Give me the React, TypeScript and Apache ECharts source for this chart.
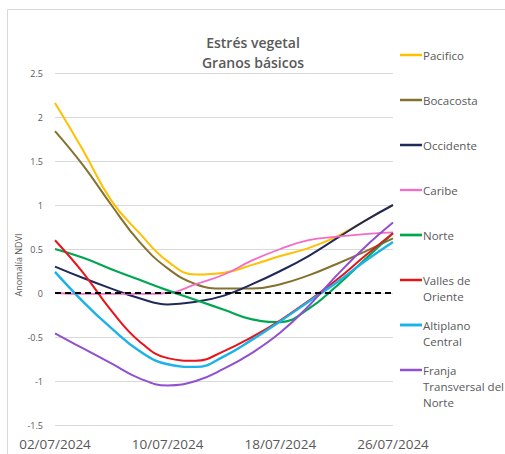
import React, { useEffect, useRef } from "react";
import * as echarts from "echarts";

// Days since 02/07/2024
const days = [0, 2, 4, 6, 8, 10, 12, 14, 16, 18, 20, 22, 24];
const xTickLabels = ["02/07/2024", "10/07/2024", "18/07/2024", "26/07/2024"];

const pacifico = [2.16, 1.62, 1.05, 0.68, 0.36, 0.21, 0.23, 0.32, 0.42, 0.51, 0.64, 0.82, 1.0];
const bocacosta = [1.84, 1.45, 1.0, 0.58, 0.28, 0.1, 0.05, 0.05, 0.1, 0.2, 0.33, 0.47, 0.62];
const occidente = [0.3, 0.17, 0.05, -0.06, -0.13, -0.1, -0.03, 0.1, 0.25, 0.42, 0.62, 0.82, 1.0];
const caribe = [0, -0.01, -0.01, -0.01, 0.0, 0.1, 0.21, 0.37, 0.5, 0.6, 0.64, 0.67, 0.69];
const norte = [0.5, 0.4, 0.27, 0.15, 0.03, -0.08, -0.19, -0.3, -0.33, -0.18, 0.08, 0.38, 0.68];
const vallesOriente = [0.6, 0.23, -0.2, -0.55, -0.74, -0.77, -0.66, -0.5, -0.31, -0.09, 0.15, 0.42, 0.68];
const altiplanoCentral = [0.24, -0.1, -0.4, -0.66, -0.81, -0.84, -0.72, -0.53, -0.32, -0.1, 0.12, 0.36, 0.58];
const franja = [-0.46, -0.63, -0.8, -0.97, -1.05, -1.0, -0.86, -0.68, -0.45, -0.15, 0.2, 0.52, 0.8];
const zeroLine = [0, 0];
const zeroDays = [0, 24];

const regionLabels = [
  "Pacifico",
  "Bocacosta",
  "Occidente",
  "Caribe",
  "Norte",
  "Valles de\nOriente",
  "Altiplano\nCentral",
  "Franja\nTransversal del\nNorte",
];
const regionValues = [pacifico, bocacosta, occidente, caribe, norte, vallesOriente, altiplanoCentral, franja];
const regionColors = ["#FFC000", "#85712F", "#1F2A5A", "#F46BC8", "#00A651", "#E8141B", "#1BB2E8", "#9050CF"];
const regionWidths = [2, 2, 2, 1.8, 2.2, 2, 2.4, 2];

const FONT = "'Open Sans', 'Noto Sans', sans-serif";
const GREY = "#595959";

export default function App() {
  const ref = useRef<HTMLDivElement>(null);

  useEffect(() => {
    if (!ref.current) return;
    const chart = echarts.init(ref.current, null, { renderer: "svg" });

    const series: any[] = regionLabels.map((label, i) => ({
      name: label.replace(/\n/g, " "),
      type: "line",
      smooth: 0.45,
      showSymbol: false,
      symbol: "none",
      lineStyle: { color: regionColors[i], width: regionWidths[i] },
      itemStyle: { color: regionColors[i] },
      data: days.map((d, j) => [d, regionValues[i][j]]),
      z: 3,
    }));
    series.push({
      name: "cero",
      type: "line",
      showSymbol: false,
      symbol: "none",
      lineStyle: { color: "#000000", width: 2, type: [6, 4] },
      data: zeroDays.map((d, j) => [d, zeroLine[j]]),
      z: 4,
    });

    const legendGraphics: any[] = [];
    regionLabels.forEach((label, i) => {
      const y = 55 + i * 45;
      legendGraphics.push({
        type: "line",
        shape: { x1: 400, y1: y, x2: 422, y2: y },
        style: { stroke: regionColors[i], lineWidth: regionWidths[i] + 0.5 },
      });
      legendGraphics.push({
        type: "text",
        x: 423,
        y: y - 8,
        style: {
          text: label,
          font: `11.5px ${FONT}`,
          fill: GREY,
          lineHeight: 16,
          verticalAlign: "top",
          align: "left",
        },
      });
    });

    chart.setOption({
      animation: false,
      backgroundColor: "#ffffff",
      title: {
        text: "Estrés vegetal\nGranos básicos",
        left: 248,
        top: 27,
        textAlign: "center",
        textStyle: {
          fontFamily: FONT,
          fontSize: 14,
          fontWeight: 600,
          color: GREY,
          lineHeight: 20,
        },
      },
      grid: { left: 55, right: 112, top: 73, bottom: 29, containLabel: false },
      xAxis: {
        type: "value",
        min: 0,
        max: 24,
        interval: 8,
        axisLine: { show: false },
        axisTick: { show: false },
        splitLine: { show: false },
        axisLabel: {
          formatter: (v: number) => xTickLabels[Math.round(v / 8)] ?? "",
          fontFamily: FONT,
          fontSize: 13.5,
          color: GREY,
          margin: 12,
        },
      },
      yAxis: {
        type: "value",
        min: -1.5,
        max: 2.5,
        interval: 0.5,
        axisLine: { show: false },
        axisTick: { show: false },
        splitLine: { lineStyle: { color: "#d9d9d9", width: 1 } },
        axisLabel: {
          fontFamily: FONT,
          fontSize: 9,
          color: GREY,
          margin: 12,
        },
      },
      tooltip: { show: false },
      graphic: [
        {
          type: "rect",
          shape: { x: 7.5, y: 9.5, width: 700, height: 700 },
          style: { fill: "none", stroke: "#d9d9d9", lineWidth: 1 },
          z: -10,
          silent: true,
        },
        {
          type: "text",
          x: 18,
          y: 265,
          rotation: Math.PI / 2,
          style: {
            text: "Anomalía NDVI",
            font: `9px ${FONT}`,
            fill: GREY,
            align: "center",
            verticalAlign: "middle",
          },
        },
        ...legendGraphics,
      ],
      series,
    });

    return () => chart.dispose();
  }, []);

  return (
    <div
      ref={ref}
      style={{ position: "absolute", left: 0, top: 0, width: 505, height: 454, background: "#fff" }}
    />
  );
}
